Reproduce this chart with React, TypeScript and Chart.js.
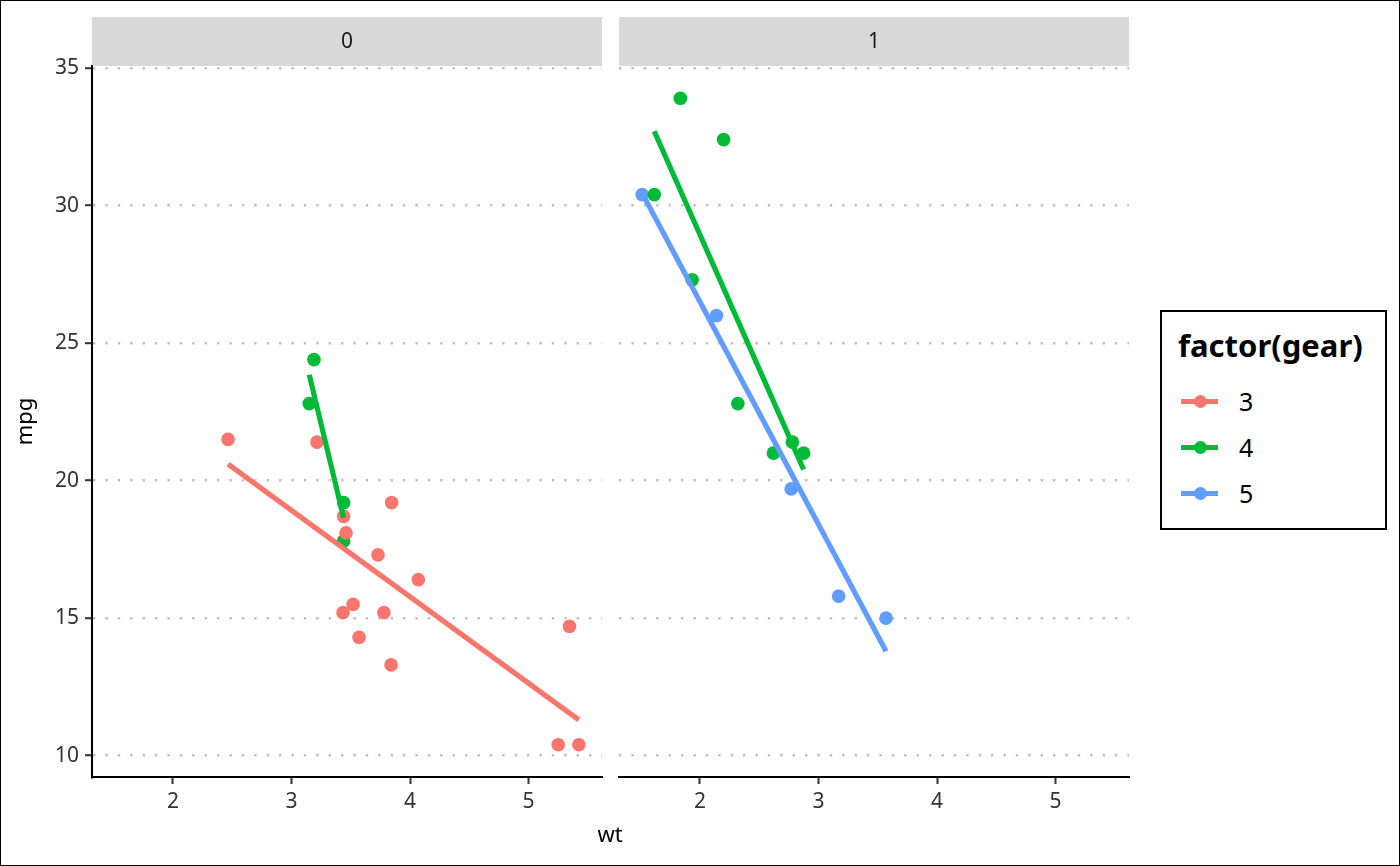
import React, { useEffect, useRef } from "react";
import { Chart, registerables } from "chart.js";

Chart.register(...registerables);
Chart.defaults.font.family = "'Noto Sans', sans-serif";

// factor(gear) levels and their hue colours
const gearLevels = ["3", "4", "5"];
const gearColours = ["#F8766D", "#00BA38", "#619CFF"];

// am = 0
const autoWt = [3.215, 3.44, 3.46, 3.57, 3.19, 3.15, 3.44, 3.44, 4.07, 3.73, 3.78, 5.25, 5.424, 5.345, 2.465, 3.52, 3.435, 3.84, 3.845];
const autoMpg = [21.4, 18.7, 18.1, 14.3, 24.4, 22.8, 19.2, 17.8, 16.4, 17.3, 15.2, 10.4, 10.4, 14.7, 21.5, 15.5, 15.2, 13.3, 19.2];
const autoGear = ["3", "3", "3", "3", "4", "4", "4", "4", "3", "3", "3", "3", "3", "3", "3", "3", "3", "3", "3"];

// am = 1
const manualWt = [2.62, 2.875, 2.32, 2.2, 1.615, 1.835, 1.935, 2.14, 1.513, 3.17, 2.77, 3.57, 2.78];
const manualMpg = [21.0, 21.0, 22.8, 32.4, 30.4, 33.9, 27.3, 26.0, 30.4, 15.8, 19.7, 15.0, 21.4];
const manualGear = ["4", "4", "4", "4", "4", "4", "4", "5", "5", "5", "5", "5", "4"];

// lm fit lines, ends
const autoFitGear = ["3", "4"];
const autoFitX = [[2.465, 5.424], [3.15, 3.44]];
const autoFitY = [[20.6, 11.3], [23.85, 18.65]];
const manualFitGear = ["4", "5"];
const manualFitX = [[1.615, 2.875], [1.513, 3.57]];
const manualFitY = [[32.7, 20.4], [30.45, 13.8]];

const xTicks = [2, 3, 4, 5];
const yTicks = [10, 15, 20, 25, 30, 35];
const panelLabels = ["0", "1"];

const FONT = "'Noto Sans', sans-serif";

interface PanelProps {
  label: string;
  wt: number[];
  mpg: number[];
  gear: string[];
  fitGear: string[];
  fitX: number[][];
  fitY: number[][];
  showY: boolean;
  left: number;
  width: number;
  padRight: number;
}

const stripPlugin = (label: string) => ({
  id: "strip",
  beforeDraw(chart: any) {
    const { ctx, chartArea } = chart;
    ctx.save();
    ctx.fillStyle = "#D9D9D9";
    ctx.fillRect(chartArea.left, 17, chartArea.right - chartArea.left, chartArea.top - 17);
    ctx.fillStyle = "#1A1A1A";
    ctx.font = `21px ${FONT}`;
    ctx.textAlign = "center";
    ctx.textBaseline = "middle";
    ctx.fillText(label, (chartArea.left + chartArea.right) / 2, 42);
    ctx.restore();
  },
});

const Panel: React.FC<PanelProps> = (p) => {
  const ref = useRef<HTMLCanvasElement>(null);

  useEffect(() => {
    if (!ref.current) return;
    const colourOf = (g: string) => gearColours[gearLevels.indexOf(g)];

    const lines = p.fitGear.map((g, i) => ({
      label: "fit " + g,
      data: p.fitX[i].map((x, j) => ({ x, y: p.fitY[i][j] })),
      showLine: true,
      borderColor: colourOf(g),
      borderWidth: 5.2,
      borderCapStyle: "butt" as const,
      pointRadius: 0,
    }));
    const points = gearLevels
      .filter((g) => p.gear.includes(g))
      .map((g) => ({
        label: g,
        data: p.wt
          .map((x, i) => ({ x, y: p.mpg[i], g: p.gear[i] }))
          .filter((d) => d.g === g)
          .map(({ x, y }) => ({ x, y })),
        backgroundColor: colourOf(g),
        borderWidth: 0,
        pointRadius: 6.8,
      }));

    const chart = new Chart(ref.current, {
      type: "scatter",
      data: { datasets: [...lines, ...points] as any },
      options: {
        animation: false,
        responsive: false,
        events: [],
        layout: { padding: { top: 66, right: p.padRight, bottom: 0, left: 0 } },
        plugins: { legend: { display: false }, tooltip: { enabled: false } },
        scales: {
          x: {
            type: "linear",
            min: 1.3175,
            max: 5.6195,
            afterBuildTicks: (s: any) => {
              s.ticks = xTicks.map((value) => ({ value }));
            },
            ticks: { color: "#333333", font: { size: 21 }, padding: 5, maxRotation: 0 },
            grid: { drawOnChartArea: false, tickLength: 7, tickColor: "#333333", tickWidth: 2 },
            border: { color: "#000000", width: 2 },
            afterFit: (s: any) => {
              s.height = 89;
            },
          },
          y: {
            type: "linear",
            min: 9.225,
            max: 35.075,
            afterBuildTicks: (s: any) => {
              s.ticks = yTicks.map((value) => ({ value }));
            },
            ticks: { display: p.showY, color: "#333333", font: { size: 21 }, padding: 6 },
            grid: {
              color: "#C0C0C0",
              lineWidth: 2.4,
              drawTicks: p.showY,
              tickLength: 7,
              tickColor: "#333333",
              tickWidth: 2,
            },
            border: { display: p.showY, color: "#000000", width: 2, dash: [2.4, 10] },
            title: {
              display: p.showY,
              text: "mpg",
              color: "#000000",
              font: { size: 22 },
              padding: { top: 13, bottom: 0 },
            },
            afterFit: (s: any) => {
              s.width = p.showY ? 92 : 9;
            },
          },
        },
      },
      plugins: [stripPlugin(p.label)],
    });
    return () => chart.destroy();
  }, []);

  return (
    <canvas
      ref={ref}
      width={p.width}
      height={866}
      style={{ position: "absolute", left: p.left, top: 0, width: p.width, height: 866 }}
    />
  );
};

export default function App() {
  return (
    <div
      style={{
        position: "absolute",
        left: 0,
        top: 0,
        width: 1400,
        height: 866,
        background: "#ffffff",
        fontFamily: FONT,
        overflow: "hidden",
      }}
    >
      <Panel
        label={panelLabels[0]}
        wt={autoWt}
        mpg={autoMpg}
        gear={autoGear}
        fitGear={autoFitGear}
        fitX={autoFitX}
        fitY={autoFitY}
        showY={true}
        left={0}
        width={612}
        padRight={10}
      />
      <Panel
        label={panelLabels[1]}
        wt={manualWt}
        mpg={manualMpg}
        gear={manualGear}
        fitGear={manualFitGear}
        fitX={manualFitX}
        fitY={manualFitY}
        showY={false}
        left={610}
        width={790}
        padRight={271}
      />
      <div
        style={{
          position: "absolute",
          left: 560,
          width: 100,
          top: 817,
          lineHeight: "32px",
          textAlign: "center",
          fontSize: 22,
          color: "#000",
        }}
      >
        wt
      </div>
      <div
        style={{
          position: "absolute",
          left: 1160,
          top: 310,
          width: 227,
          height: 220,
          border: "2px solid #000",
          boxSizing: "border-box",
          background: "#fff",
        }}
      >
        <div
          style={{
            position: "absolute",
            left: 16,
            top: 14,
            lineHeight: "38px",
            fontSize: 31,
            fontWeight: 700,
            color: "#000",
            whiteSpace: "nowrap",
          }}
        >
          factor(gear)
        </div>
        {gearLevels.map((g, i) => (
          <div
            key={g}
            style={{ position: "absolute", left: 19, top: 74 + i * 46, height: 30, width: 200 }}
          >
            <div
              style={{
                position: "absolute",
                left: 0,
                top: 13,
                width: 37,
                height: 4.5,
                background: gearColours[i],
              }}
            />
            <div
              style={{
                position: "absolute",
                left: 12.5,
                top: 8.5,
                width: 13,
                height: 13,
                borderRadius: 7,
                background: gearColours[i],
              }}
            />
            <div
              style={{
                position: "absolute",
                left: 58,
                top: 0,
                lineHeight: "30px",
                fontSize: 25,
                color: "#000",
              }}
            >
              {g}
            </div>
          </div>
        ))}
      </div>
      <div
        style={{
          position: "absolute",
          inset: 0,
          border: "1px solid #000",
          pointerEvents: "none",
        }}
      />
    </div>
  );
}
